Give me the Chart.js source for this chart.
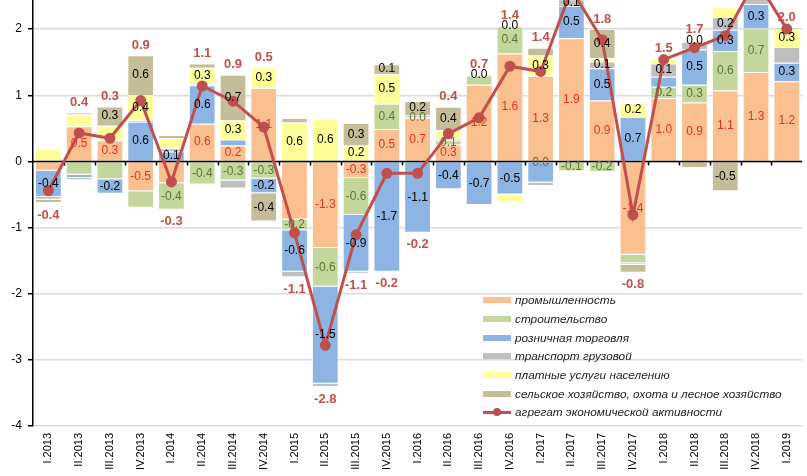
<!DOCTYPE html>
<html lang="ru">
<head>
<meta charset="utf-8">
<script src="https://cdn.jsdelivr.net/npm/chart.js@4/dist/chart.umd.min.js"></script>
<style>
  html, body { margin: 0; padding: 0; background: #fff; }
  #wrap { position: relative; width: 807px; height: 476px; overflow: hidden; }
  #legend { position: absolute; left: 483px; top: 291px; font: italic 11.8px "Liberation Sans", Arial, sans-serif; color: #222; }
  .item { height: 18.7px; display: flex; align-items: center; white-space: nowrap; }
  .sw { width: 28px; height: 6px; margin-right: 4px; position: relative; flex: none; }
  .sw.line { height: 3px; }
  .sw.line i { position: absolute; left: 10px; top: -2.5px; width: 8px; height: 8px; border-radius: 50%; }
</style>
</head>
<body>
<div id="wrap">
  <canvas id="chart" width="807" height="476"></canvas>
  <div id="legend"></div>
</div>
<script>
// кварталы
const quarters = ['I.2013','II.2013','III.2013','IV.2013','I.2014','II.2014','III.2014','IV.2014',
  'I.2015','II.2015','III.2015','IV.2015','I.2016','II.2016','III.2016','IV.2016',
  'I.2017','II.2017','III.2017','IV.2017','I.2018','II.2018','III.2018','IV.2018','I.2019'];

// вклады отраслей, п.п.
const promyshlennost = [-0.14,0.53,0.32,-0.45,-0.33,0.57,0.24,1.11,-0.88,-1.31,-0.25,0.49,0.66,0.25,1.16,1.63,1.29,1.86,0.92,-1.41,0.96,0.89,1.07,1.35,1.21];
const stroitelstvo = [0,-0.2,-0.27,-0.25,-0.4,-0.35,-0.29,-0.26,-0.16,-0.58,-0.56,0.38,0.01,0.07,0.14,0.41,-0.02,-0.15,-0.16,-0.13,0.17,0.27,0.6,0.66,0];
const roznica = [-0.4,-0.05,-0.22,0.6,0.15,0.58,0.09,-0.22,-0.63,-1.47,-0.86,-1.67,-1.08,-0.42,-0.66,-0.5,-0.3,0.49,0.49,0.67,0.15,0.53,0.32,0.37,0.28];
const transport = [-0.04,-0.035,0,0.025,0.05,0.015,-0.12,0,-0.08,-0.05,-0.03,0,0.025,0.025,0,0,-0.05,0.1,0.1,-0.025,0.2,0.12,0.19,0.2,0.24];
const platnye = [0.19,0.18,0.22,0.38,0.15,0.25,0.29,0.31,0.59,0.65,0.24,0.45,0,0.13,0,-0.12,0.31,0.2,0.05,0.21,0.07,0.03,0.15,0.15,0.27];
const selhoz = [-0.05,0.025,0.29,0.6,0.05,0.065,0.69,-0.43,0.065,0,0.34,0.15,0.22,0.35,0.01,0.01,0.12,0.1,0.44,-0.12,0,-0.1,-0.45,0,0.02];
const agregat = [-0.44,0.43,0.35,0.92,-0.31,1.14,0.91,0.52,-1.08,-2.78,-1.11,-0.18,-0.18,0.42,0.66,1.44,1.36,2.6,1.84,-0.81,1.54,1.72,1.9,2.75,2.0];

// подписи данных (как на исходном графике)
const promLbl = ['','0.5','0.3','-0.5','','0.6','0.2','1.1','','-1.3','-0.3','0.5','0.7','0.3','1.2','1.6','1.3','1.9','0.9','-1.4','1.0','0.9','1.1','1.3','1.2'];
const stroiLbl = ['','','','','-0.4','-0.4','-0.3','-0.3','-0.2','-0.6','-0.6','0.4','0.0','0.1','','0.4','0.0','-0.1','-0.2','','0.2','0.3','0.6','0.7',''];
const roznLbl = ['-0.4','','-0.2','0.6','0.1','0.6','','-0.2','-0.6','-1.5','-0.9','-1.7','-1.1','-0.4','-0.7','-0.5','','0.5','0.5','0.7','','0.5','0.3','0.3','0.3'];
const transLbl = ['','','','','','','','','','','','','','','','','','0.1','0.1','','0.1','','0.2','',''];
const platLbl = ['','','','0.4','','0.3','0.3','0.3','0.6','0.6','0.2','0.5','','','','','0.3','','','0.2','','0.0','','','0.3'];
const selhLbl = ['','','0.3','0.6','','','0.7','-0.4','','','0.3','0.1','0.2','0.4','0.0','0.0','','','0.4','','','','-0.5','',''];
// подписи II.2017, III.2018, IV.2018 за краем рисунка
const agregatLbl = ['-0.4','0.4','0.3','0.9','-0.3','1.1','0.9','0.5','-1.1','-2.8','-1.1','-0.2','-0.2','0.4','0.7','1.4','1.4','','1.8','-0.8','1.5','1.7','','','2.0'];

const FONT = '"Liberation Sans", Arial, sans-serif';

function stolbik(label, data, color, texts, textColor) {
  return {
    label: label, data: data, backgroundColor: color,
    borderColor: 'rgba(255,255,255,0.5)', borderWidth: 1,
    barPercentage: 0.87, categoryPercentage: 1,
    texts: texts, textColor: textColor
  };
}

// ось по нулю и подписи значений
const podpisi = {
  id: 'podpisi',
  beforeDatasetDraw(chart, args) {
    if (args.meta.type !== 'line') return;
    const ctx = chart.ctx, xs = chart.scales.x, ys = chart.scales.y, area = chart.chartArea;
    const y0 = ys.getPixelForValue(0);
    ctx.save();
    ctx.strokeStyle = '#000';
    ctx.lineWidth = 1.5;
    ctx.beginPath();
    ctx.moveTo(area.left, y0);
    ctx.lineTo(area.right, y0);
    for (let i = 1; i < quarters.length; i++) {
      const px = Math.round(xs.getPixelForValue(i - 0.5)) + 0.5;
      ctx.moveTo(px, y0);
      ctx.lineTo(px, y0 + 4);
    }
    ctx.stroke();
    ctx.restore();
  },
  afterDatasetsDraw(chart) {
    const ctx = chart.ctx, ys = chart.scales.y;
    ctx.save();
    ctx.textAlign = 'center';
    ctx.textBaseline = 'middle';
    const bars = chart.data.datasets.filter(d => d.type !== 'line');
    chart.data.datasets.forEach((ds, di) => {
      const meta = chart.getDatasetMeta(di);
      if (ds.type === 'line') {
        ctx.font = 'bold 13px ' + FONT;
        ctx.fillStyle = '#C0504D';
        meta.data.forEach((pt, i) => {
          if (!agregatLbl[i]) return;
          let pos = 0, neg = 0;
          bars.forEach(b => { if (b.data[i] > 0) pos += b.data[i]; else neg += b.data[i]; });
          const y = agregat[i] >= 0 ? ys.getPixelForValue(pos) - 10 : ys.getPixelForValue(neg) + 12;
          ctx.fillText(agregatLbl[i], pt.x, y);
        });
      } else {
        ctx.font = '12px ' + FONT;
        ctx.fillStyle = ds.textColor;
        meta.data.forEach((bar, i) => {
          const t = ds.texts[i];
          if (!t) return;
          ctx.fillText(t, bar.x, (bar.y + bar.base) / 2);
        });
      }
    });
    ctx.restore();
  }
};

const chart = new Chart(document.getElementById('chart').getContext('2d'), {
  type: 'bar',
  data: {
    labels: quarters,
    datasets: [
      stolbik('промышленность', promyshlennost, '#FAC090', promLbl, '#E0302A'),
      stolbik('строительство', stroitelstvo, '#C3D69B', stroiLbl, '#5F7530'),
      stolbik('розничная торговля', roznica, '#8EB4E3', roznLbl, '#000'),
      stolbik('транспорт грузовой', transport, '#BFBFBF', transLbl, '#000'),
      stolbik('платные услуги населению', platnye, '#FFFF99', platLbl, '#000'),
      stolbik('сельское хозяйство, охота и лесное хозяйство', selhoz, '#C4BD97', selhLbl, '#000'),
      {
        type: 'line', label: 'агрегат экономической активности', data: agregat,
        stack: 'agg', order: -1,
        borderColor: '#C0504D', backgroundColor: '#C0504D', borderWidth: 3,
        pointRadius: 4, pointBackgroundColor: '#C0504D', pointBorderColor: '#C0504D'
      }
    ]
  },
  options: {
    responsive: false,
    animation: false,
    layout: { padding: 0, autoPadding: false },
    plugins: { legend: { display: false }, tooltip: { enabled: false } },
    scales: {
      x: {
        stacked: true,
        grid: { display: false, drawTicks: false },
        border: { display: false },
        ticks: { minRotation: 90, maxRotation: 90, autoSkip: false, padding: 7, color: '#000', font: { family: FONT, size: 11 } },
        afterFit(s) { s.height = 50; }
      },
      y: {
        stacked: true,
        min: -4,
        max: 2.44,
        grid: { color: '#d9d9d9', lineWidth: 1.5, tickColor: '#000', tickLength: 5 },
        border: { color: '#000', width: 1.5 },
        ticks: { stepSize: 1, includeBounds: false, padding: 6, color: '#000', font: { family: FONT, size: 12 } },
        afterFit(s) { s.width = 33; s.paddingTop = 0; s.paddingBottom = 0; }
      }
    }
  },
  plugins: [podpisi]
});

// легенда
const legend = document.getElementById('legend');
chart.data.datasets.forEach(ds => {
  const row = document.createElement('div');
  row.className = 'item';
  const sw = document.createElement('span');
  if (ds.type === 'line') {
    sw.className = 'sw line';
    sw.style.background = ds.borderColor;
    const dot = document.createElement('i');
    dot.style.background = ds.borderColor;
    sw.appendChild(dot);
  } else {
    sw.className = 'sw';
    sw.style.background = ds.backgroundColor;
  }
  row.appendChild(sw);
  row.appendChild(document.createTextNode(ds.label));
  legend.appendChild(row);
});
</script>
</body>
</html>
